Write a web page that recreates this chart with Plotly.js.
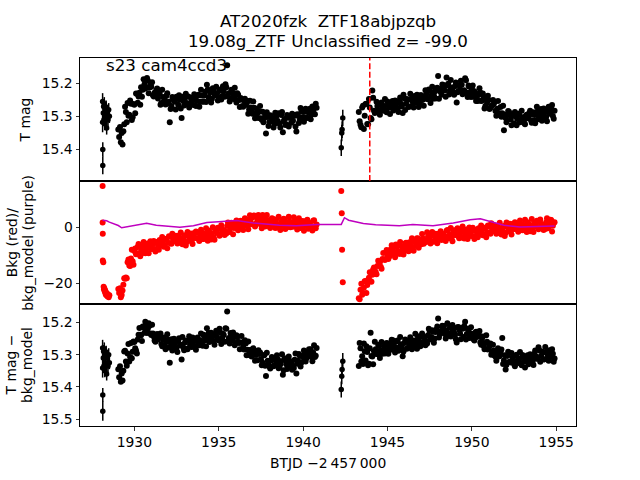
<!DOCTYPE html>
<html>
<head>
<meta charset="utf-8">
<script src="https://cdn.plot.ly/plotly-3.0.1.min.js"></script>
<style>html,body{margin:0;padding:0;background:#fff;}#chart{width:640px;height:480px;}</style>
</head>
<body>
<div id="chart"></div>
<script>
// ---------------- data (BTJD - 2457000) ----------------
// early sparse cluster (with visible error bars)
const tA = [1928.12,1928.12,1928.13,1928.13,1928.16,1928.18,1928.20,1928.22,1928.25,1928.27,1928.30,1928.33,1928.36,1928.40,1928.44,1928.48,1928.52];
const tmagA = [15.255,15.318,15.400,15.448,15.290,15.270,15.310,15.262,15.322,15.285,15.300,15.272,15.335,15.290,15.310,15.280,15.300];
const tmagErrA = [0.025,0.030,0.022,0.027,0.020,0.020,0.020,0.020,0.020,0.020,0.020,0.020,0.020,0.020,0.020,0.020,0.020];
const detA = [15.279,15.341,15.425,15.475,15.310,15.290,15.335,15.282,15.350,15.305,15.325,15.292,15.360,15.310,15.335,15.300,15.325];
const detErrA = [0.025,0.030,0.022,0.030,0.020,0.020,0.020,0.020,0.020,0.020,0.020,0.020,0.020,0.020,0.020,0.020,0.020];
const bkgA = [14.7,1.7,-2.3,-11.9,-12.5,-21.2,-22.2,-21.8,-23.0,-22.5,-23.8,-24.2,-23.5,-24.6,-24.0,-25.0,-24.3];

// second small cluster
const tB = [1929.05,1929.10,1929.15,1929.20,1929.25,1929.30,1929.35];
const tmagB = [15.340,15.362,15.332,15.378,15.350,15.385,15.345];
const detB = [15.345,15.370,15.336,15.384,15.358,15.380,15.350];
const bkgB = [-22.0,-23.5,-21.8,-25.0,-24.2,-22.6,-20.5];

// first orbit, dense part (cadence a)
const tC = [
1929.4,1929.5,1929.6,1929.7,1929.8,1929.9,1930.0,1930.1,1930.2,1930.3,
1930.4,1930.5,1930.6,1930.7,1930.8,1930.9,1931.0,1931.1,1931.2,1931.3,
1931.4,1931.5,1931.6,1931.7,1931.8,1931.9,1932.0,1932.1,1932.2,1932.3,
1932.4,1932.5,1932.6,1932.7,1932.8,1932.9,1933.0,1933.1,1933.2,1933.3,
1933.4,1933.5,1933.6,1933.7,1933.8,1933.9,1934.0,1934.1,1934.2,1934.3,
1934.4,1934.5,1934.6,1934.7,1934.8,1934.9,1935.0,1935.1,1935.2,1935.3,
1935.4,1935.5,1935.6,1935.7,1935.8,1935.9,1936.0,1936.1,1936.2,1936.3,
1936.4,1936.5,1936.6,1936.7,1936.8,1936.9,1937.0,1937.1,1937.2,1937.3,
1937.4,1937.5,1937.6,1937.7,1937.8,1937.9,1938.0,1938.1,1938.2,1938.3,
1938.4,1938.5,1938.6,1938.7,1938.8,1938.9,1939.0,1939.1,1939.2,1939.3,
1939.4,1939.5,1939.6,1939.7,1939.8,1939.9,1940.0,1940.1,1940.2,1940.3,
1940.4,1940.5,1940.6,1940.7,1940.8];
const tmagC = [
15.324,15.287,15.260,15.295,15.262,15.303,15.265,15.231,15.259,15.229,
15.212,15.220,15.203,15.213,15.192,15.213,15.211,15.236,15.229,15.221,
15.246,15.232,15.260,15.242,15.250,15.238,15.261,15.318,15.269,15.247,
15.256,15.241,15.265,15.249,15.305,15.254,15.245,15.260,15.240,15.263,
15.252,15.266,15.243,15.254,15.235,15.256,15.237,15.255,15.226,15.205,
15.242,15.227,15.247,15.221,15.236,15.231,15.244,15.219,15.239,15.225,
15.203,15.146,15.230,15.248,15.227,15.238,15.250,15.230,15.251,15.245,
15.269,15.252,15.266,15.254,15.279,15.273,15.292,15.274,15.292,15.289,
15.286,15.306,15.286,15.305,15.352,15.302,15.317,15.299,15.310,15.323,
15.301,15.314,15.322,15.296,15.348,15.308,15.324,15.304,15.298,15.319,
15.313,15.298,15.346,15.298,15.311,15.285,15.302,15.286,15.305,15.288,
15.277,15.294,15.281,15.294,15.274];
const detC = [
15.290,15.321,15.296,15.321,15.264,15.291,15.261,15.287,15.253,15.217,
15.240,15.213,15.232,15.207,15.219,15.210,15.239,15.234,15.256,15.239,
15.253,15.241,15.267,15.253,15.273,15.261,15.254,15.325,15.252,15.275,
15.264,15.279,15.258,15.271,15.315,15.278,15.262,15.282,15.256,15.269,
15.276,15.260,15.278,15.250,15.263,15.255,15.265,15.238,15.255,15.218,
15.233,15.250,15.241,15.258,15.236,15.246,15.255,15.232,15.249,15.239,
15.218,15.166,15.248,15.233,15.255,15.246,15.264,15.245,15.264,15.262,
15.262,15.284,15.265,15.285,15.301,15.285,15.302,15.287,15.301,15.317,
15.298,15.314,15.325,15.302,15.366,15.319,15.337,15.318,15.312,15.333,
15.327,15.314,15.339,15.320,15.362,15.311,15.330,15.316,15.337,15.322,
15.334,15.316,15.358,15.319,15.303,15.324,15.308,15.294,15.311,15.299,
15.290,15.306,15.294,15.307,15.279];
const bkgC = [
-18.2,-17.9,-12.5,-13.7,-11.2,-12.1,-8.5,-9.6,-7.0,-9.4,
-8.0,-9.2,-6.5,-7.9,-5.8,-7.0,-7.7,-6.0,-7.8,-5.3,
-6.3,-4.6,-6.5,-5.1,-6.6,-4.1,-5.5,-3.4,-5.9,-4.5,
-3.7,-5.1,-3.0,-5.5,-3.9,-4.3,-2.9,-5.3,-3.2,-4.5,
-4.8,-3.0,-3.8,-2.0,-4.1,-3.0,-2.0,-4.2,-2.4,-3.3,
-1.2,-3.3,-2.2,-3.6,-1.3,-2.1,-0.4,-2.4,-0.7,-1.1,
-1.5,0.4,-1.7,0.1,1.5,-0.3,1.2,-0.5,0.8,2.3,
0.3,1.8,2.8,0.4,2.6,1.8,3.5,4.2,0.9,3.0,
2.4,1.0,4.4,1.5,3.0,0.5,2.4,0.9,3.0,1.4,
2.8,1.1,0.0,1.9,0.5,2.8,1.3,0.1,2.0,0.9,
0.2,2.0,0.9,2.4,-0.2,1.3,0.3,2.1,0.8,-0.5,
1.5,-0.2,2.3,0.3,1.0];

// first orbit, dense part (cadence b)
const tC2 = [
1929.45,1929.55,1929.65,1929.75,1929.85,1929.95,1930.05,1930.15,1930.25,1930.35,
1930.45,1930.55,1930.65,1930.75,1930.85,1930.95,1931.05,1931.15,1931.25,1931.35,
1931.45,1931.55,1931.65,1931.75,1931.85,1931.95,1932.05,1932.15,1932.25,1932.35,
1932.45,1932.55,1932.65,1932.75,1932.85,1932.95,1933.05,1933.15,1933.25,1933.35,
1933.45,1933.55,1933.65,1933.75,1933.85,1933.95,1934.05,1934.15,1934.25,1934.35,
1934.45,1934.55,1934.65,1934.75,1934.85,1934.95,1935.05,1935.15,1935.25,1935.35,
1935.45,1935.55,1935.65,1935.75,1935.85,1935.95,1936.05,1936.15,1936.25,1936.35,
1936.45,1936.55,1936.65,1936.75,1936.85,1936.95,1937.05,1937.15,1937.25,1937.35,
1937.45,1937.55,1937.65,1937.75,1937.85,1937.95,1938.05,1938.15,1938.25,1938.35,
1938.45,1938.55,1938.65,1938.75,1938.85,1938.95,1939.05,1939.15,1939.25,1939.35,
1939.45,1939.55,1939.65,1939.75,1939.85,1939.95,1940.05,1940.15,1940.25,1940.35,
1940.45,1940.55,1940.65,1940.75];
const tmagC2 = [
15.271,15.318,15.298,15.252,15.311,15.263,15.291,15.232,15.240,15.265,
15.241,15.188,15.216,15.184,15.230,15.204,15.197,15.240,15.233,15.216,
15.223,15.265,15.220,15.256,15.264,15.230,15.256,15.278,15.242,15.250,
15.279,15.247,15.236,15.276,15.241,15.267,15.232,15.262,15.273,15.244,
15.250,15.233,15.269,15.238,15.271,15.220,15.256,15.237,15.257,15.219,
15.246,15.258,15.215,15.235,15.211,15.252,15.222,15.249,15.209,15.241,
15.212,15.240,15.255,15.220,15.247,15.214,15.258,15.235,15.272,15.249,
15.271,15.247,15.261,15.292,15.253,15.285,15.255,15.306,15.277,15.305,
15.269,15.310,15.318,15.295,15.288,15.329,15.297,15.315,15.334,15.289,
15.318,15.291,15.334,15.287,15.315,15.326,15.296,15.331,15.304,15.292,
15.296,15.331,15.294,15.320,15.275,15.304,15.316,15.277,15.304,15.281,
15.309,15.270,15.293,15.262];
const detC2 = [
15.288,15.334,15.267,15.307,15.311,15.259,15.280,15.296,15.238,15.238,
15.258,15.216,15.198,15.233,15.203,15.234,15.207,15.244,15.260,15.236,
15.247,15.234,15.274,15.247,15.283,15.237,15.278,15.263,15.287,15.251,
15.280,15.292,15.249,15.269,15.245,15.286,15.256,15.283,15.243,15.275,
15.247,15.273,15.285,15.247,15.271,15.234,15.272,15.244,15.274,15.245,
15.261,15.232,15.242,15.269,15.226,15.254,15.220,15.267,15.235,15.260,
15.220,15.259,15.265,15.240,15.231,15.271,15.240,15.260,15.283,15.242,
15.277,15.255,15.302,15.259,15.291,15.306,15.280,15.319,15.295,15.286,
15.293,15.333,15.302,15.334,15.294,15.327,15.343,15.307,15.336,15.315,
15.302,15.342,15.330,15.299,15.348,15.315,15.344,15.306,15.320,15.347,
15.341,15.296,15.328,15.298,15.337,15.304,15.287,15.321,15.307,15.283,
15.283,15.320,15.271,15.303];
const bkgC2 = [
-18.4,-18.2,-11.5,-13.8,-8.0,-13.4,-7.6,-9.4,-6.0,-10.4,
-6.8,-5.3,-9.3,-7.1,-9.3,-5.0,-7.8,-4.9,-8.7,-5.3,
-8.0,-5.1,-3.5,-7.0,-4.2,-7.5,-3.2,-5.7,-2.3,-4.9,
-3.0,-5.8,-4.7,-1.9,-6.1,-3.2,-6.5,-1.7,-4.8,-2.2,
-6.0,-2.1,-1.5,-4.0,-4.9,-0.9,-4.2,-2.4,-0.4,-4.8,
-1.8,-4.4,0.0,-4.5,-1.5,-0.2,-3.0,0.7,-1.8,-2.8,
-2.2,1.7,-1.5,1.6,-2.5,0.8,2.4,-1.1,2.0,0.1,
-1.0,3.2,2.2,-0.7,4.3,1.1,4.1,0.3,1.7,4.4,
4.0,-0.4,3.1,0.3,4.4,1.2,-0.3,3.2,2.0,-0.3,
-0.1,3.7,-1.0,2.3,3.0,-0.6,1.7,3.7,0.0,0.7,
3.6,0.4,-0.8,3.2,-0.3,2.2,-1.3,1.7,2.7,-0.2,
0.4,-1.2,2.5,-0.4];

// isolated points in the gap (with error bars)
const tD = [1942.26,1942.29,1942.31,1942.35];
const tmagD = [15.395,15.350,15.340,15.305];
const tmagErrD = [0.025,0.025,0.025,0.025];
const detD = [15.408,15.367,15.346,15.320];
const detErrD = [0.025,0.025,0.025,0.025];
const bkgD = [12.9,5.0,-8.0,-19.6];

// second orbit (cadence a)
const tE = [
1943.3,1943.4,1943.5,1943.6,1943.7,1943.8,1943.9,1944.0,1944.1,1944.2,
1944.3,1944.4,1944.5,1944.6,1944.7,1944.8,1944.9,1945.0,1945.1,1945.2,
1945.3,1945.4,1945.5,1945.6,1945.7,1945.8,1945.9,1946.0,1946.1,1946.2,
1946.3,1946.4,1946.5,1946.6,1946.7,1946.8,1946.9,1947.0,1947.1,1947.2,
1947.3,1947.4,1947.5,1947.6,1947.7,1947.8,1947.9,1948.0,1948.1,1948.2,
1948.3,1948.4,1948.5,1948.6,1948.7,1948.8,1948.9,1949.0,1949.1,1949.2,
1949.3,1949.4,1949.5,1949.6,1949.7,1949.8,1949.9,1950.0,1950.1,1950.2,
1950.3,1950.4,1950.5,1950.6,1950.7,1950.8,1950.9,1951.0,1951.1,1951.2,
1951.3,1951.4,1951.5,1951.6,1951.7,1951.8,1951.9,1952.0,1952.1,1952.2,
1952.3,1952.4,1952.5,1952.6,1952.7,1952.8,1952.9,1953.0,1953.1,1953.2,
1953.3,1953.4,1953.5,1953.6,1953.7,1953.8,1953.9,1954.0,1954.1,1954.2,
1954.3,1954.4,1954.5,1954.6,1954.7,1954.8,1954.9];
const tmagE = [
15.287,15.325,15.273,15.338,15.263,15.323,15.248,15.305,15.222,15.283,
15.285,15.269,15.288,15.261,15.275,15.269,15.281,15.255,15.274,15.259,
15.254,15.270,15.260,15.276,15.253,15.262,15.290,15.246,15.262,15.251,
15.270,15.247,15.256,15.239,15.259,15.247,15.260,15.236,15.249,15.241,
15.233,15.248,15.223,15.237,15.247,15.225,15.216,15.178,15.224,15.235,
15.211,15.222,15.183,15.202,15.222,15.213,15.229,15.209,15.258,15.224,
15.218,15.205,15.230,15.185,15.229,15.207,15.228,15.217,15.241,15.229,
15.247,15.235,15.228,15.252,15.242,15.269,15.259,15.251,15.274,15.267,
15.263,15.284,15.277,15.295,15.272,15.291,15.342,15.305,15.296,15.286,
15.309,15.294,15.321,15.301,15.308,15.294,15.315,15.303,15.320,15.298,
15.306,15.290,15.312,15.294,15.311,15.295,15.285,15.299,15.278,15.300,
15.288,15.302,15.280,15.292,15.275,15.299,15.283];
const detE = [
15.335,15.280,15.305,15.265,15.318,15.292,15.328,15.232,15.306,15.289,
15.283,15.298,15.273,15.287,15.297,15.275,15.286,15.265,15.274,15.285,
15.261,15.274,15.282,15.256,15.277,15.268,15.305,15.264,15.258,15.279,
15.271,15.255,15.277,15.256,15.269,15.243,15.260,15.244,15.263,15.246,
15.258,15.240,15.227,15.245,15.229,15.250,15.222,15.188,15.237,15.226,
15.218,15.236,15.226,15.241,15.215,15.231,15.221,15.239,15.262,15.214,
15.234,15.217,15.245,15.198,15.236,15.224,15.247,15.235,15.252,15.232,
15.245,15.234,15.262,15.250,15.273,15.264,15.260,15.280,15.265,15.293,
15.287,15.306,15.289,15.306,15.293,15.248,15.318,15.346,15.304,15.323,
15.324,15.309,15.329,15.303,15.318,15.313,15.326,15.301,15.321,15.307,
15.302,15.317,15.306,15.321,15.297,15.305,15.312,15.287,15.304,15.294,
15.314,15.292,15.302,15.286,15.307,15.297,15.312];
const bkgE = [
-25.3,-22.3,-24.1,-21.6,-19.2,-20.6,-18.0,-19.3,-17.0,-14.4,
-15.9,-13.8,-12.3,-14.1,-11.3,-11.4,-9.1,-10.4,-10.5,-7.9,
-8.2,-9.7,-6.2,-8.5,-6.5,-9.5,-6.9,-8.5,-5.5,-7.2,
-5.4,-6.7,-7.5,-5.3,-6.5,-4.0,-5.2,-6.1,-4.0,-4.8,
-5.3,-3.4,-4.2,-2.6,-5.1,-3.3,-4.2,-2.3,-3.4,-4.6,
-2.4,-4.0,-1.3,-3.2,-2.5,-3.8,-1.6,-2.8,-1.0,-3.2,
-2.2,-3.7,-1.2,-2.8,-0.8,-2.1,-3.0,-1.4,-3.3,-1.0,
-2.0,-0.4,-2.4,-1.1,-2.7,-0.2,-1.8,0.3,-2.3,-0.9,
-0.2,-1.6,0.4,-2.1,-0.5,-0.9,0.4,-2.0,0.1,-1.2,
-1.5,0.3,-0.6,1.2,-0.9,0.2,1.2,-1.1,0.7,-0.3,
1.8,-0.4,0.7,-0.9,1.3,0.3,1.9,-0.3,1.2,0.7,
0.1,1.8,-0.4,1.2,2.6,0.5,1.8];

// second orbit (cadence b)
const tE2 = [
1943.35,1943.45,1943.55,1943.65,1943.75,1943.85,1943.95,1944.05,1944.15,1944.25,
1944.35,1944.45,1944.55,1944.65,1944.75,1944.85,1944.95,1945.05,1945.15,1945.25,
1945.35,1945.45,1945.55,1945.65,1945.75,1945.85,1945.95,1946.05,1946.15,1946.25,
1946.35,1946.45,1946.55,1946.65,1946.75,1946.85,1946.95,1947.05,1947.15,1947.25,
1947.35,1947.45,1947.55,1947.65,1947.75,1947.85,1947.95,1948.05,1948.15,1948.25,
1948.35,1948.45,1948.55,1948.65,1948.75,1948.85,1948.95,1949.05,1949.15,1949.25,
1949.35,1949.45,1949.55,1949.65,1949.75,1949.85,1949.95,1950.05,1950.15,1950.25,
1950.35,1950.45,1950.55,1950.65,1950.75,1950.85,1950.95,1951.05,1951.15,1951.25,
1951.35,1951.45,1951.55,1951.65,1951.75,1951.85,1951.95,1952.05,1952.15,1952.25,
1952.35,1952.45,1952.55,1952.65,1952.75,1952.85,1952.95,1953.05,1953.15,1953.25,
1953.35,1953.45,1953.55,1953.65,1953.75,1953.85,1953.95,1954.05,1954.15,1954.25,
1954.35,1954.45,1954.55,1954.65,1954.75,1954.85];
const tmagE2 = [
15.315,15.333,15.268,15.298,15.262,15.324,15.273,15.309,15.244,15.290,
15.256,15.282,15.295,15.258,15.283,15.248,15.288,15.261,15.293,15.265,
15.282,15.252,15.261,15.287,15.243,15.270,15.235,15.281,15.248,15.272,
15.232,15.269,15.273,15.246,15.235,15.272,15.236,15.251,15.268,15.221,
15.248,15.219,15.260,15.211,15.237,15.246,15.214,15.247,15.218,15.204,
15.206,15.241,15.206,15.234,15.190,15.221,15.235,15.198,15.227,15.206,
15.193,15.233,15.221,15.191,15.242,15.211,15.242,15.207,15.224,15.254,
15.254,15.215,15.254,15.231,15.276,15.249,15.238,15.278,15.270,15.251,
15.256,15.298,15.254,15.291,15.301,15.268,15.295,15.318,15.284,15.295,
15.327,15.297,15.287,15.327,15.292,15.318,15.283,15.313,15.324,15.295,
15.300,15.283,15.319,15.288,15.321,15.271,15.309,15.291,15.313,15.276,
15.304,15.315,15.271,15.290,15.266,15.307];
const detE2 = [
15.264,15.321,15.329,15.289,15.274,15.333,15.280,15.304,15.330,15.260,
15.298,15.269,15.310,15.261,15.287,15.296,15.264,15.297,15.268,15.254,
15.256,15.293,15.259,15.288,15.245,15.276,15.290,15.253,15.282,15.261,
15.246,15.283,15.268,15.235,15.282,15.247,15.274,15.234,15.246,15.271,
15.265,15.220,15.253,15.224,15.263,15.230,15.213,15.247,15.233,15.210,
15.211,15.250,15.203,15.237,15.244,15.208,15.232,15.252,15.215,15.223,
15.252,15.220,15.211,15.253,15.220,15.248,15.215,15.245,15.256,15.229,
15.239,15.227,15.269,15.244,15.283,15.240,15.284,15.272,15.300,15.269,
15.303,15.319,15.280,15.304,15.284,15.329,15.302,15.331,15.291,15.323,
15.295,15.322,15.336,15.300,15.326,15.292,15.333,15.307,15.340,15.313,
15.330,15.299,15.307,15.332,15.287,15.313,15.277,15.322,15.290,15.315,
15.276,15.314,15.319,15.293,15.283,15.322];
const bkgE2 = [
-25.7,-20.2,-23.5,-19.3,-23.5,-18.8,-16.1,-19.5,-15.1,-16.6,
-16.8,-12.0,-12.5,-14.8,-9.2,-11.7,-8.1,-11.3,-9.4,-6.4,
-6.6,-10.7,-7.0,-9.5,-5.3,-8.3,-9.7,-5.8,-6.7,-8.6,
-8.1,-3.9,-8.4,-4.8,-3.9,-7.3,-4.6,-2.4,-5.9,-4.9,
-1.8,-4.9,-5.8,-1.7,-5.1,-2.3,-5.7,-2.6,-1.4,-4.2,
-3.4,-4.9,-1.0,-3.9,-0.3,-5.0,-1.1,-2.7,-0.4,-3.9,
-1.0,0.3,-4.0,-1.9,-4.2,-0.1,-3.0,-0.2,-4.2,-0.9,
-3.6,-0.8,0.6,-2.9,-0.2,-3.6,0.6,-2.0,1.4,-1.3,
0.6,-2.3,-1.2,1.6,-2.6,0.2,-3.1,1.7,-1.4,1.2,
-2.6,1.2,1.8,-0.7,-1.6,2.4,-1.0,0.8,2.7,-1.7,
1.2,-1.4,2.9,-1.7,1.1,2.3,-0.7,2.8,0.2,-1.0,
-0.6,3.2,-0.2,2.7,-1.5,1.6];

// background model (purple line)
const tModel = [1928.12,1928.36,1928.52,1929.05,1929.25,1929.74,1930.20,1930.73,1931.30,1932.00,1932.70,1933.50,1934.30,1935.20,1936.06,1937.05,1937.80,1938.60,1939.60,1940.85,1942.26,1942.45,1942.70,1943.30,1943.57,1944.30,1944.95,1945.70,1946.50,1947.70,1948.90,1949.90,1950.50,1951.10,1951.90,1952.85,1953.80,1954.90];
const bkgModel = [2.5,2.3,1.8,0.6,-0.2,0.4,1.0,1.4,0.7,0.3,0.0,0.5,1.7,2.0,2.4,1.5,1.1,0.7,0.5,1.0,1.0,3.4,2.5,1.8,1.3,0.9,0.7,0.5,1.0,0.5,1.5,2.7,3.0,2.1,0.7,0.1,0.3,0.4];

const discoveryBTJD = 1943.95;

const titleLine1 = 'AT2020fzk \u00a0ZTF18abjpzqb';
const titleLine2 = '19.08g_ZTF Unclassified z= -99.0';
const sectorLabel = 's23 cam4ccd3';
const xTicks = [1930,1935,1940,1945,1950,1955];
const magTicks1 = [15.2,15.3,15.4];
const bkgTicks = [-20,0];
const bkgTickText = ['\u221220','0'];
const magTicks3 = [15.2,15.3,15.4,15.5];

// ---------------- plot ----------------
const FONT = 'DejaVu Sans, Verdana, sans-serif';
const BLACK = '#000000';
const RED = '#ff0000';
const MAGENTA = '#bf00bf';
const MS = 5.5;
const MS_DENSE = 6;

const denseX = tB.concat(tC, tC2, tE, tE2);
const dense1y = tmagB.concat(tmagC, tmagC2, tmagE, tmagE2);
const dense3y = detB.concat(detC, detC2, detE, detE2);
const errX = tA.concat(tD);

const traces = [
  {x: errX, y: tmagA.concat(tmagD), xaxis:'x', yaxis:'y', type:'scatter', mode:'markers',
   marker:{color:BLACK, size:MS}, error_y:{type:'data', array: tmagErrA.concat(tmagErrD), color:BLACK, thickness:1.5, width:0}},
  {x: denseX, y: dense1y, xaxis:'x', yaxis:'y', type:'scatter', mode:'markers', marker:{color:BLACK, size:MS_DENSE}},
  {x: tA.concat(tB, tC, tC2, tD, tE, tE2), y: bkgA.concat(bkgB, bkgC, bkgC2, bkgD, bkgE, bkgE2), xaxis:'x2', yaxis:'y2', type:'scatter', mode:'markers', marker:{color:RED, size:MS_DENSE}},
  {x: tModel, y: bkgModel, xaxis:'x2', yaxis:'y2', type:'scatter', mode:'lines', line:{color:MAGENTA, width:1.5}},
  {x: errX, y: detA.concat(detD), xaxis:'x3', yaxis:'y3', type:'scatter', mode:'markers',
   marker:{color:BLACK, size:MS}, error_y:{type:'data', array: detErrA.concat(detErrD), color:BLACK, thickness:1.5, width:0}},
  {x: denseX, y: dense3y, xaxis:'x3', yaxis:'y3', type:'scatter', mode:'markers', marker:{color:BLACK, size:MS_DENSE}}
];

const xr = [1926.78, 1956.17];
const axBase = {showline:true, mirror:true, linecolor:BLACK, linewidth:1, showgrid:false, zeroline:false,
  tickfont:{family:FONT, size:13.9, color:BLACK}, ticks:'outside', ticklen:3.5, tickwidth:0.8, tickcolor:BLACK};

function label(text, x, y, angle, size) {
  return {text:text, xref:'paper', yref:'paper', x:x, y:y, xanchor:'center', yanchor:'middle',
          textangle:angle, showarrow:false, font:{family:FONT, size:size, color:BLACK}};
}

const layout = {
  width:640, height:480, showlegend:false,
  paper_bgcolor:'#fff', plot_bgcolor:'#fff',
  margin:{l:80, r:64, t:58, b:54, pad:0},
  font:{family:FONT, color:BLACK},
  xaxis: Object.assign({}, axBase, {anchor:'y', range:xr, domain:[0,1], showticklabels:false, ticks:''}),
  xaxis2: Object.assign({}, axBase, {anchor:'y2', range:xr, domain:[0,1], showticklabels:false, ticks:''}),
  xaxis3: Object.assign({}, axBase, {anchor:'y3', range:xr, domain:[0,1], tickmode:'array', tickvals:xTicks}),
  yaxis: Object.assign({}, axBase, {anchor:'x', domain:[0.6658,1], range:[15.495,15.124], tickmode:'array', tickvals:magTicks1}),
  yaxis2: Object.assign({}, axBase, {anchor:'x2', domain:[0.3315,0.6658], range:[-27.4,16.5], tickmode:'array', tickvals:bkgTicks, ticktext:bkgTickText}),
  yaxis3: Object.assign({}, axBase, {anchor:'x3', domain:[0,0.3315], range:[15.521,15.143], tickmode:'array', tickvals:magTicks3}),
  shapes:[
    {type:'line', xref:'x', yref:'y domain', x0:discoveryBTJD, x1:discoveryBTJD, y0:0, y1:1,
     line:{color:RED, width:1.5, dash:'6px,2.6px'}}
  ],
  annotations:[
    label(titleLine1, 0.5, 1.1005, 0, 16.7),
    label(titleLine2, 0.5, 1.0435, 0, 16.7),
    {text:sectorLabel, xref:'paper', yref:'paper', x:0.048, y:0.981, xanchor:'left', yanchor:'middle', showarrow:false,
     font:{family:FONT, size:16.7, color:BLACK}},
    label('T mag', -0.1089, 0.8329, -90, 13.9),
    label('Bkg (red)/', -0.1377, 0.4986, -90, 13.9),
    label('bkg_model (purple)', -0.1063, 0.4986, -90, 13.9),
    label('T mag \u2212', -0.1401, 0.1658, -90, 13.9),
    label('bkg_model', -0.1069, 0.1658, -90, 13.9),
    label('BTJD \u22122\u2009457\u2009000', 0.5, -0.1005, 0, 13.9)
  ]
};

Plotly.newPlot('chart', traces, layout, {displayModeBar:false, staticPlot:true});
</script>
</body>
</html>
